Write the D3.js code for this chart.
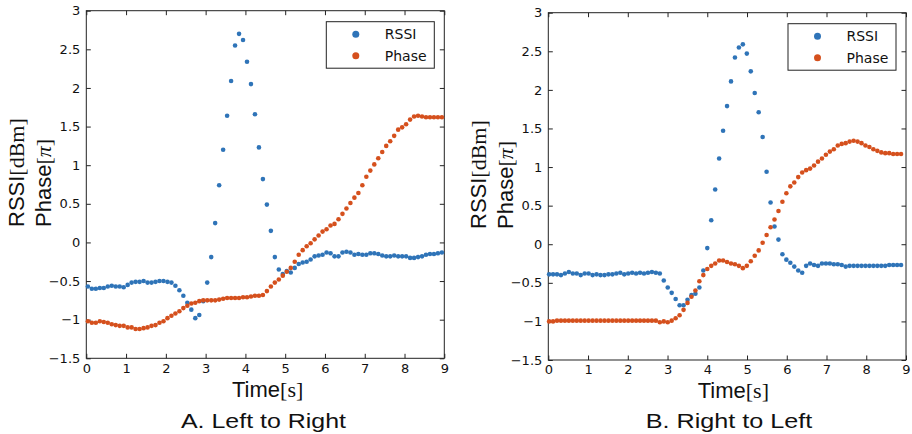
<!DOCTYPE html>
<html lang="en">

<head>
  <meta charset="UTF-8">
  <title>rssi-phase</title>
  <script src="https://cdn.jsdelivr.net/npm/d3@7"></script>
  <style type="text/css">
    html,
    body {
      margin: 0;
      background: #fff;
    }

    svg {
      display: block;
    }

    .tick text {
      font-family: "DejaVu Sans", sans-serif;
      font-size: 13px;
      fill: #111;
    }

    .tick line {
      stroke: #222;
    }
  </style>
</head>

<body>
  <script>
    // sample times: one reading every ~0.1 s
    var startA = 0.04, stepA = 0.1;
    var startB = 0.02, stepB = 0.0995;

    var seriesNames = ['RSSI', 'Phase'];
    var colors = ['#2f74b8', '#d5501d'];
    var titles = ['A. Left to Right', 'B. Right to Left'];
    var xTicks = [0, 1, 2, 3, 4, 5, 6, 7, 8, 9];
    var yTicks = [-1.5, -1, -0.5, 0, 0.5, 1, 1.5, 2, 2.5, 3];

    var rssiA = [
      -0.57, -0.60, -0.60, -0.59, -0.59, -0.57, -0.56, -0.57, -0.57, -0.58,
      -0.55, -0.52, -0.51, -0.51, -0.50, -0.52, -0.52, -0.51, -0.50, -0.50,
      -0.51, -0.52, -0.56, -0.62, -0.69, -0.78, -0.87, -0.98, -0.94, -0.76,
      -0.52, -0.19, 0.25, 0.74, 1.20, 1.64, 2.09, 2.55, 2.70, 2.62,
      2.34, 2.05, 1.66, 1.23, 0.82, 0.49, 0.15, -0.19, -0.35, -0.41,
      -0.37, -0.39, -0.33, -0.28, -0.26, -0.25, -0.22, -0.18, -0.17, -0.16,
      -0.13, -0.14, -0.18, -0.18, -0.13, -0.12, -0.13, -0.16, -0.15, -0.16,
      -0.16, -0.14, -0.14, -0.15, -0.17, -0.18, -0.18, -0.17, -0.18, -0.18,
      -0.18, -0.20, -0.20, -0.19, -0.18, -0.16, -0.15, -0.15, -0.14, -0.13
    ];

    var phaseA = [
      -1.02, -1.04, -1.04, -1.02, -1.03, -1.04, -1.06, -1.07, -1.08, -1.08,
      -1.10, -1.10, -1.12, -1.12, -1.11, -1.10, -1.08, -1.07, -1.04, -1.02,
      -0.98, -0.95, -0.92, -0.89, -0.85, -0.82, -0.79, -0.78, -0.76, -0.75,
      -0.75, -0.75, -0.75, -0.74, -0.73, -0.72, -0.72, -0.72, -0.72, -0.71,
      -0.71, -0.70, -0.69, -0.69, -0.68, -0.63, -0.57, -0.52, -0.48, -0.43,
      -0.38, -0.33, -0.25, -0.16, -0.10, -0.05, -0.01, 0.04, 0.09, 0.14,
      0.17, 0.22, 0.24, 0.30, 0.37, 0.44, 0.51, 0.58, 0.64, 0.74,
      0.85, 0.93, 1.01, 1.09, 1.17, 1.25, 1.31, 1.38, 1.46, 1.49,
      1.53, 1.59, 1.63, 1.64, 1.63, 1.62, 1.62, 1.62, 1.62, 1.62
    ];

    var rssiB = [
      -0.39, -0.39, -0.39, -0.40, -0.38, -0.36, -0.38, -0.38, -0.40, -0.38,
      -0.38, -0.40, -0.39, -0.40, -0.40, -0.39, -0.39, -0.38, -0.37, -0.39,
      -0.38, -0.37, -0.38, -0.37, -0.38, -0.37, -0.36, -0.37, -0.38, -0.47,
      -0.56, -0.63, -0.71, -0.79, -0.79, -0.72, -0.66, -0.64, -0.56, -0.34,
      -0.05, 0.31, 0.71, 1.11, 1.47, 1.79, 2.11, 2.42, 2.55, 2.59,
      2.47, 2.24, 1.96, 1.71, 1.39, 0.94, 0.54, 0.23, 0.06, -0.13,
      -0.20, -0.24, -0.29, -0.34, -0.37, -0.28, -0.25, -0.27, -0.28, -0.25,
      -0.25, -0.25, -0.26, -0.26, -0.27, -0.29, -0.28, -0.28, -0.28, -0.28,
      -0.28, -0.28, -0.28, -0.28, -0.28, -0.28, -0.27, -0.27, -0.27, -0.27
    ];

    var phaseB = [
      -1.00, -1.00, -0.99, -0.99, -0.99, -0.99, -0.99, -0.99, -0.99, -0.99,
      -0.99, -0.99, -0.99, -0.99, -0.99, -0.99, -0.99, -0.99, -0.99, -0.99,
      -0.99, -0.99, -0.99, -0.99, -0.99, -0.99, -0.99, -0.99, -1.01, -1.00,
      -1.01, -0.99, -0.96, -0.92, -0.85, -0.76, -0.68, -0.60, -0.48, -0.40,
      -0.32, -0.28, -0.25, -0.21, -0.21, -0.23, -0.25, -0.26, -0.28, -0.31,
      -0.28, -0.22, -0.15, -0.08, 0.02, 0.12, 0.22, 0.32, 0.43, 0.55,
      0.66, 0.75, 0.80, 0.87, 0.93, 0.96, 0.98, 1.02, 1.07, 1.11,
      1.16, 1.20, 1.23, 1.28, 1.30, 1.31, 1.33, 1.34, 1.33, 1.31,
      1.28, 1.26, 1.23, 1.21, 1.19, 1.18, 1.18, 1.17, 1.17, 1.17
    ];

    var panels = [
      { rssi: rssiA, phase: phaseA, start: startA, step: stepA, title: titles[0],
        left: 86.3, top: 10.7, width: 358, height: 347.6,
        timeX: 145.7, titleX: 94.7, titleLen: 165, yLabY: 227 },
      { rssi: rssiB, phase: phaseB, start: startB, step: stepB, title: titles[1],
        left: 548.3, top: 12.7, width: 357.7, height: 347.3,
        timeX: 149.4, titleX: 97.4, titleLen: 166.6, yLabY: 229 }
    ];

    var svg = d3.select('body')
      .append('svg')
      .attr('width', 912)
      .attr('height', 434);

    var fmt = d3.format('~g');

    panels.forEach(function (p) {
      var x = d3.scaleLinear().domain([0, 9]).range([0, p.width]);
      var y = d3.scaleLinear().domain([-1.5, 3]).range([p.height, 0]);

      var g = svg.append('g')
        .attr('transform', 'translate(' + p.left + ',' + p.top + ')');

      // axes, ticks pointing inward on all four sides
      g.append('g')
        .attr('transform', 'translate(0,' + p.height + ')')
        .call(d3.axisBottom(x).tickValues(xTicks).tickFormat(fmt).tickSize(-4.5).tickPadding(5));
      g.append('g')
        .call(d3.axisTop(x).tickValues(xTicks).tickFormat('').tickSize(-4.5));
      g.append('g')
        .call(d3.axisLeft(y).tickValues(yTicks).tickFormat(fmt).tickSize(-4.5).tickPadding(6));
      g.append('g')
        .attr('transform', 'translate(' + p.width + ',0)')
        .call(d3.axisRight(y).tickValues(yTicks).tickFormat('').tickSize(-4.5));
      g.selectAll('.domain').remove();

      g.append('rect')
        .attr('width', p.width)
        .attr('height', p.height)
        .attr('fill', 'none')
        .attr('stroke', '#222')
        .attr('stroke-width', 1);

      [p.rssi, p.phase].forEach(function (vals, k) {
        g.append('g')
          .selectAll('circle')
          .data(vals)
          .join('circle')
          .attr('cx', function (d, i) { return x(p.start + i * p.step); })
          .attr('cy', function (d) { return y(d); })
          .attr('r', 2.3)
          .attr('fill', colors[k]);
      });

      // legend
      var lx = p.width - 10 - 108, ly = 11;
      var leg = g.append('g').attr('transform', 'translate(' + lx + ',' + ly + ')');
      leg.append('rect')
        .attr('width', 108)
        .attr('height', 46.5)
        .attr('fill', '#fff')
        .attr('stroke', '#222')
        .attr('stroke-width', 1);
      seriesNames.forEach(function (name, k) {
        leg.append('circle')
          .attr('cx', 29.5)
          .attr('cy', 12.5 + k * 21.5)
          .attr('r', 3.5)
          .attr('fill', colors[k]);
        leg.append('text')
          .attr('x', 58.5)
          .attr('y', 17.8 + k * 21.5)
          .attr('font-family', '"DejaVu Sans", sans-serif')
          .attr('font-size', '14px')
          .attr('fill', '#111')
          .text(name);
      });

      // x label
      var xl = g.append('text')
        .attr('x', p.timeX)
        .attr('y', p.height + 38.4)
        .attr('font-size', '22px')
        .attr('fill', '#111');
      xl.append('tspan').attr('font-family', '"Liberation Sans", Arial, sans-serif').text('Time');
      xl.append('tspan').attr('font-family', '"Liberation Serif", "Times New Roman", serif').text('[s]');

      // y label, two lines
      var yl1 = g.append('text')
        .attr('transform', 'translate(-62.5,' + (p.yLabY - p.top) + ') rotate(-90)')
        .attr('font-size', '22px')
        .attr('fill', '#111');
      yl1.append('tspan').attr('font-family', '"Liberation Sans", Arial, sans-serif').text('RSSI');
      yl1.append('tspan').attr('font-family', '"Liberation Serif", "Times New Roman", serif').text('[dBm]');

      var yl2 = g.append('text')
        .attr('transform', 'translate(-35,' + (p.yLabY - p.top) + ') rotate(-90)')
        .attr('font-size', '22px')
        .attr('fill', '#111');
      yl2.append('tspan').attr('font-family', '"Liberation Sans", Arial, sans-serif').text('Phase');
      yl2.append('tspan').attr('font-family', '"Liberation Serif", "Times New Roman", serif').text('[');
      yl2.append('tspan').attr('font-family', '"Liberation Serif", "Times New Roman", serif')
        .attr('font-style', 'italic').text('π');
      yl2.append('tspan').attr('font-family', '"Liberation Serif", "Times New Roman", serif').text(']');

      // caption
      g.append('text')
        .attr('x', p.titleX)
        .attr('y', 427.7 - p.top)
        .attr('font-family', '"Liberation Sans", Arial, sans-serif')
        .attr('font-size', '21px')
        .attr('fill', '#111')
        .attr('textLength', p.titleLen)
        .attr('lengthAdjust', 'spacingAndGlyphs')
        .text(p.title);
    });
  </script>
</body>

</html>
